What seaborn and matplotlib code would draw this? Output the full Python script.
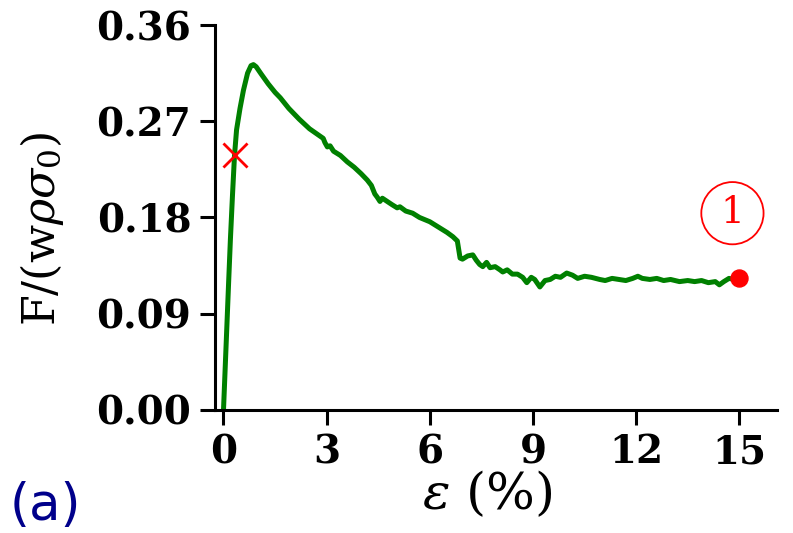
import numpy as np
import pandas as pd
import seaborn as sns
import matplotlib.pyplot as plt

# strain (%) and normalised force
strain = [0.00, 0.05, 0.10, 0.15, 0.20, 0.26, 0.32, 0.38, 0.48, 0.58, 0.70, 0.80,
          0.87, 0.95, 1.10, 1.30, 1.50, 1.65, 1.90, 2.20, 2.50, 2.90, 2.95, 3.02,
          3.10, 3.20, 3.40, 3.60, 3.80, 4.00, 4.18, 4.30, 4.40, 4.47, 4.55, 4.62,
          4.76, 4.90, 5.05, 5.13, 5.30, 5.50, 5.70, 6.00, 6.30, 6.50, 6.67, 6.80,
          6.85, 6.88, 6.95, 7.10, 7.25, 7.35, 7.45, 7.54, 7.65, 7.75, 7.90, 8.04,
          8.12, 8.25, 8.40, 8.55, 8.70, 8.82, 8.95, 9.05, 9.20, 9.35, 9.50, 9.65,
          9.80, 9.98, 10.15, 10.30, 10.50, 10.70, 10.94, 11.10, 11.30, 11.50, 11.70,
          11.90, 12.05, 12.18, 12.40, 12.60, 12.80, 13.00, 13.26, 13.50, 13.70,
          13.90, 14.10, 14.30, 14.42, 14.55, 14.70, 14.85, 15.00]
force = [0.000, 0.040, 0.080, 0.120, 0.159, 0.200, 0.238, 0.262, 0.282, 0.299, 0.315, 0.322,
         0.323, 0.321, 0.314, 0.305, 0.297, 0.292, 0.282, 0.272, 0.263, 0.254, 0.250, 0.246,
         0.247, 0.242, 0.238, 0.232, 0.227, 0.221, 0.215, 0.210, 0.202, 0.199, 0.195, 0.198,
         0.195, 0.192, 0.189, 0.190, 0.186, 0.184, 0.180, 0.176, 0.170, 0.166, 0.162, 0.158,
         0.148, 0.142, 0.141, 0.144, 0.145, 0.140, 0.136, 0.134, 0.138, 0.133, 0.134, 0.131,
         0.129, 0.131, 0.127, 0.127, 0.124, 0.119, 0.124, 0.122, 0.115, 0.121, 0.122, 0.125,
         0.124, 0.128, 0.126, 0.123, 0.125, 0.124, 0.122, 0.121, 0.123, 0.122, 0.121,
         0.123, 0.125, 0.123, 0.122, 0.123, 0.121, 0.122, 0.120, 0.121, 0.120,
         0.121, 0.119, 0.120, 0.117, 0.120, 0.123, 0.122, 0.123]

cross_pt = (0.32, 0.238)   # red x on the rising branch
end_pt = (15.0, 0.123)     # red dot at the end
label_pos = (14.8, 0.184)  # circled "1"

xticks = [0, 3, 6, 9, 12, 15]
yticks = [0.00, 0.09, 0.18, 0.27, 0.36]

sns.set_style('ticks')
plt.rcParams['font.family'] = ['DejaVu Serif']
plt.rcParams['mathtext.fontset'] = 'dejavuserif'
plt.rcParams['text.color'] = 'black'
plt.rcParams['axes.labelcolor'] = 'black'
plt.rcParams['xtick.color'] = 'black'
plt.rcParams['ytick.color'] = 'black'
plt.rcParams['axes.edgecolor'] = 'black'

fig = plt.figure(figsize=(7.93, 5.33), dpi=100)
ax = fig.add_axes([0.271, 0.231, 0.709, 0.722])

df = pd.DataFrame({'strain': strain, 'force': force})
sns.lineplot(data=df, x='strain', y='force', sort=False, estimator=None,
             color='green', linewidth=3.6, ax=ax)
ax.scatter([cross_pt[0]], [cross_pt[1]], marker='x', s=300, color='red',
           linewidths=2, zorder=5)
ax.scatter([end_pt[0]], [end_pt[1]], marker='o', s=150, color='red', zorder=5)
ax.text(label_pos[0], label_pos[1], '1', color='red', fontsize=27,
        ha='center', va='center',
        bbox=dict(boxstyle='circle,pad=0.35', fc='none', ec='red', lw=1.3))

ax.set_xlim(-0.25, 16.1)
ax.set_ylim(0, 0.36)
ax.set_xticks(xticks)
ax.set_yticks(yticks)
ax.set_xticklabels([str(t) for t in xticks])
ax.set_yticklabels([f'{t:.2f}' for t in yticks])
for lab in ax.get_xticklabels() + ax.get_yticklabels():
    lab.set_fontweight('bold')
ax.tick_params(labelsize=28, length=11, width=2.2, pad=6)
for s in ['left', 'bottom']:
    ax.spines[s].set_linewidth(2.2)
sns.despine(ax=ax)

ax.set_xlabel(r'$\varepsilon$ (%)', fontsize=37)
ax.xaxis.set_label_coords(0.484, -0.155)
ax.set_ylabel(r'F/(w$\rho\sigma_0$)', fontsize=32)
ax.yaxis.set_label_coords(-0.265, 0.47)
fig.text(0.012, 0.025, '(a)', color='darkblue', fontsize=37, family='DejaVu Sans')

fig.savefig('out.png', dpi=100)
